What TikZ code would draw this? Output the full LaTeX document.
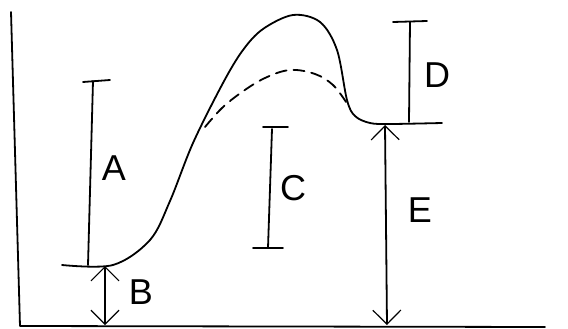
\documentclass[tikz,border=0pt]{standalone}
\usepackage{fontspec}
\setmainfont{Liberation Sans}
\usetikzlibrary{arrows.meta}
\tikzset{
  ink/.style={line width=1.8pt, line cap=round, line join=round, black},
  barb/.style={ink, {Straight Barb[length=14pt,width=28pt,line width=1.2pt]}-{Straight Barb[length=14pt,width=28pt,line width=1.2pt]}},
  lbl/.style={font=\fontsize{36}{36}\selectfont, inner sep=0pt}
}
\begin{document}
\begin{tikzpicture}[x=1pt,y=-1pt]
\useasboundingbox (0,0) rectangle (568,329);
% axes
\coordinate (ytop) at (11,12);
\coordinate (orig) at (20,326);
\coordinate (xend) at (545,327);
\draw[ink] (ytop) -- (orig) -- (xend);
% energy curve (solid)
\draw[ink] plot[smooth, tension=0.55] coordinates {(62,265) (113,265) (150,240) (170,201) (193,143) (223,83) (243,50) (263,29) (293,15) (320,22) (337,50) (347,100) (355,116) (370,123) (390,124) (442,123)};
% dashed catalysed path
\draw[ink, dash pattern=on 11pt off 7pt] plot[smooth, tension=0.6] coordinates {(205,127) (222,108) (242,92) (265,78) (290,70) (315,74) (333,85) (346,102)};
% A
\coordinate (Atl) at (83,82); \coordinate (Atr) at (110,80);
\coordinate (At) at (93,81); \coordinate (Ab) at (88,265);
\draw[ink] (Atl) -- (Atr);
\draw[ink] (At) -- (Ab);
\node[lbl] (A) at (114,168) {A};
% B
\coordinate (Bt) at (105,266); \coordinate (Bb) at (105,325);
\draw[barb] (Bt) -- (Bb);
\node[lbl] (B) at (141,292) {B};
% C
\coordinate (Ctl) at (263,127); \coordinate (Ctr) at (288,127);
\coordinate (Ct) at (272,129); \coordinate (Cb) at (268,248);
\coordinate (Cbl) at (253,248); \coordinate (Cbr) at (283,248);
\draw[ink] (Ctl) -- (Ctr);
\draw[ink] (Ct) -- (Cb);
\draw[ink] (Cbl) -- (Cbr);
\node[lbl] (C) at (293,188) {C};
% D
\coordinate (Dtl) at (393,22); \coordinate (Dtr) at (427,21);
\coordinate (Dt) at (410,22); \coordinate (Db) at (409,122);
\draw[ink] (Dtl) -- (Dtr);
\draw[ink] (Dt) -- (Db);
\node[lbl] (D) at (437,75) {D};
% E
\coordinate (Et) at (385,125); \coordinate (Eb) at (387,325);
\draw[barb] (Et) -- (Eb);
\node[lbl] (E) at (420,210) {E};
\end{tikzpicture}
\end{document}
